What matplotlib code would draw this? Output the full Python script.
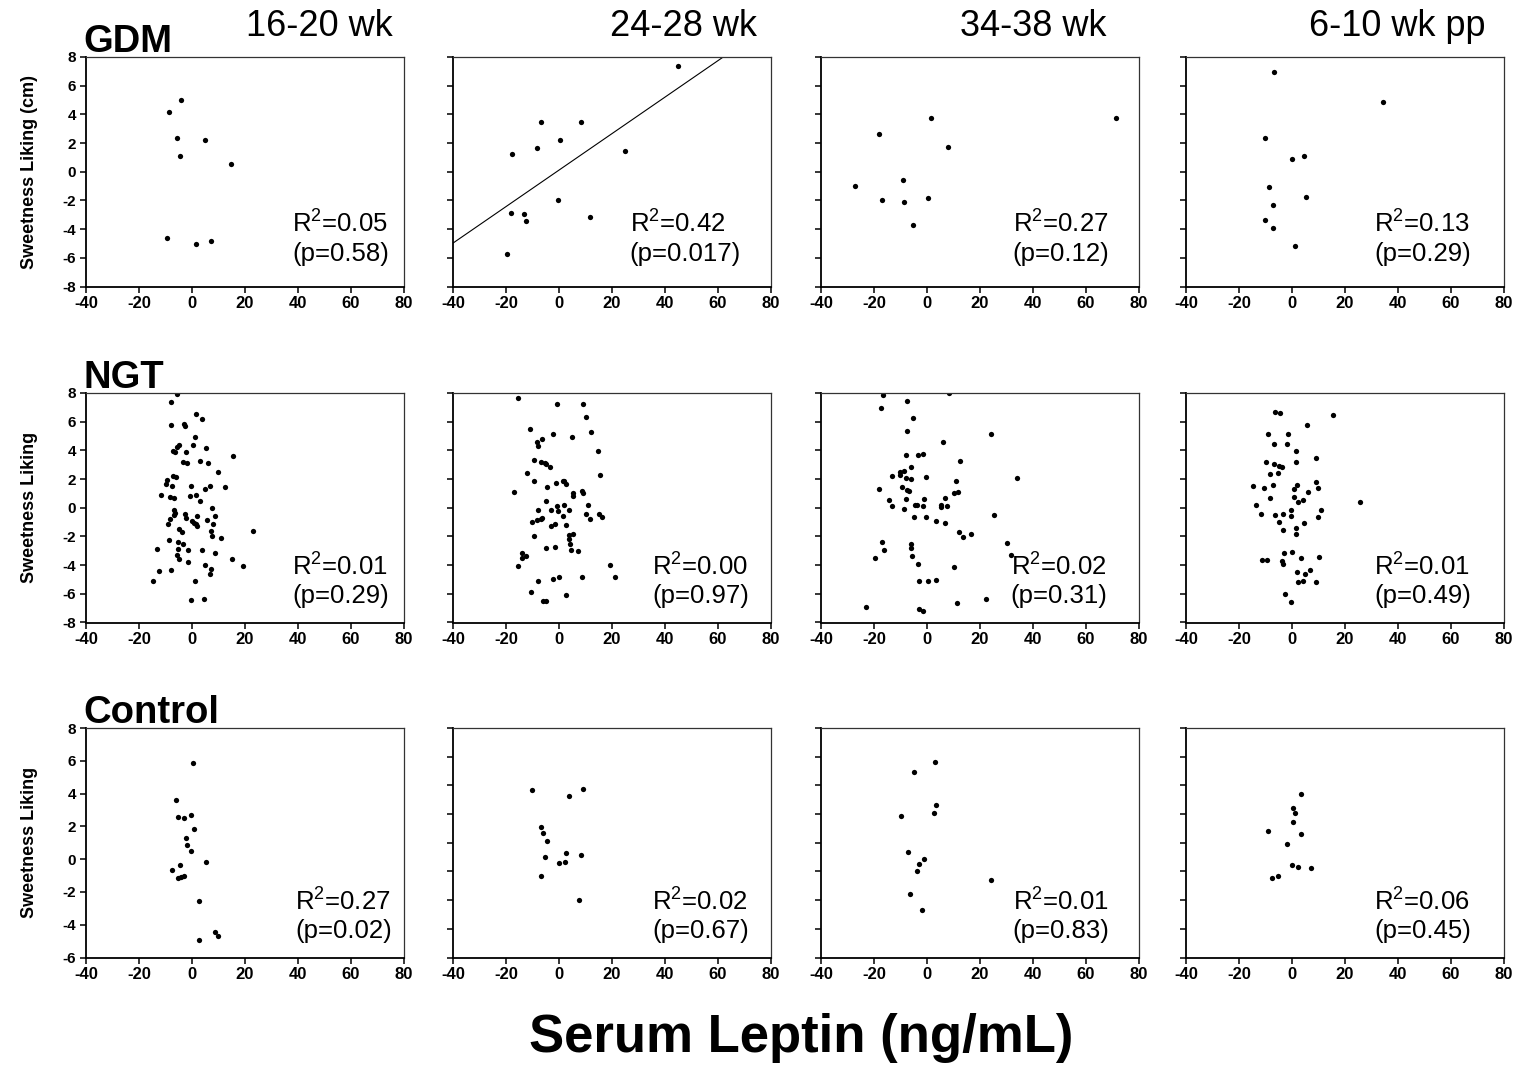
import numpy as np
import matplotlib
matplotlib.use("Agg")
import matplotlib.pyplot as plt

plt.rcParams["font.family"] = ["Liberation Sans", "DejaVu Sans"]
plt.rcParams["mathtext.default"] = "regular"
plt.rcParams["axes.unicode_minus"] = False

# ---------------------------------------------------------------------
# data: (leptin, sweetness liking) per group and visit
# ---------------------------------------------------------------------
visits = ["16-20 wk", "24-28 wk", "34-38 wk", "6-10 wk pp"]
groups = ["GDM", "NGT", "Control"]
ylabels = ["Sweetness Liking (cm)", "Sweetness Liking", "Sweetness Liking"]

gdm_1_x = [-4.0, -8.5, -5.5, 4.8, -4.6, 14.8, -9.2, 1.7, 7.1]
gdm_1_y = [5.0, 4.19, 2.33, 2.19, 1.08, 0.55, -4.6, -5.05, -4.82]
gdm_2_x = [44.9, -6.6, 8.3, 0.5, -8.4, -17.7, 24.9, -0.5, -17.9, -13.0, -12.4, 11.8, -19.5]
gdm_2_y = [7.37, 3.45, 3.45, 2.24, 1.64, 1.27, 1.43, -2.0, -2.89, -2.98, -3.43, -3.17, -5.7]
gdm_3_x = [1.4, 71.4, -18.2, 7.9, -9.0, -27.0, -16.9, -8.6, 0.5, -5.3]
gdm_3_y = [3.74, 3.74, 2.6, 1.74, -0.58, -0.98, -2.0, -2.09, -1.81, -3.70]
gdm_4_x = [-6.7, 34.4, -10.3, 0.2, 4.7, -8.6, 5.4, -7.3, -10.3, -7.2, 1.3]
gdm_4_y = [6.98, 4.86, 2.37, 0.91, 1.09, -1.05, -1.74, -2.30, -3.37, -3.95, -5.19]

ngt_1_x = [-5.5, -7.9, 1.4, 3.8, -7.9, -2.9, -2.4, 1.3, 0.5, -4.9, -5.5, 5.3, -7.3, -6.3,
           -2.3, 15.4, -3.5, -2.0, 3.0, 6.2, 9.8, -7.2, -5.9, -9.2, -9.8, -7.6, -0.3, 6.9,
           12.6, 4.8, -11.6, 1.6, -8.2, -6.7, -0.8, 3.1, 7.8, -6.9, -6.5, -6.8, -2.6, -2.3,
           -8.2, 2.0, 8.7, 0.1, 0.8, 1.4, 1.9, 5.9, 8.1, -9.1, -4.7, -3.7, 7.2, 23.3, 7.6,
           11.1, -8.6, -5.2, -3.3, -13.0, -5.4, -1.4, 4.0, 8.7, -5.5, -5.0, -1.6, 15.1, 5.0,
           19.3, -7.7, -12.3, 7.2, 6.9, -14.7, 1.3, -0.3, 4.7]
ngt_1_y = [7.9, 7.37, 6.53, 6.19, 5.79, 5.86, 5.70, 4.91, 4.40, 4.35, 4.21, 4.14, 3.93, 3.86,
           3.86, 3.63, 3.16, 3.14, 3.23, 3.09, 2.47, 2.23, 2.14, 1.93, 1.65, 1.51, 1.49, 1.49,
           1.47, 1.28, 0.86, 0.91, 0.77, 0.65, 0.79, 0.44, 0.0, -0.14, -0.35, -0.53, -0.44, -0.74,
           -0.79, -0.58, -0.56, -0.91, -1.05, -1.16, -1.28, -0.88, -1.12, -1.16, -1.49, -1.72, -1.60, -1.63, -1.95,
           -2.09, -2.23, -2.40, -2.51, -2.88, -2.88, -2.95, -2.98, -3.14, -3.26, -3.60, -3.79, -3.58, -4.02,
           -4.07, -4.33, -4.40, -4.30, -4.60, -5.12, -5.12, -6.40, -6.37]
ngt_2_x = [-15.5, -0.6, 9.2, 10.3, -10.8, 12.0, -2.3, -6.2, 4.8, -8.3, -7.8, 14.7, -9.4, -6.9,
           -5.3, -4.8, -3.3, -12.0, 15.4, -9.2, -0.9, 1.4, 2.1, 2.8, -4.5, -17.0, 8.8, 9.2,
           5.2, 5.3, -4.9, 11.1, -0.8, 1.9, -7.7, -3.1, -0.4, 3.7, 10.1, 15.2, 1.5, 11.6,
           16.5, -8.3, -6.7, -10.1, -6.2, -1.6, -2.9, 2.6, -9.4, 4.0, 5.5, 4.0, 4.2, 4.5,
           7.1, -4.9, -1.3, -13.9, -12.5, -14.0, -15.4, 19.3, 21.4, -0.1, -2.3, 8.7, -7.8, -10.6,
           2.6, -5.9, -4.8]
ngt_2_y = [7.65, 7.23, 7.23, 6.35, 5.49, 5.30, 5.12, 4.81, 4.93, 4.56, 4.30, 3.93, 3.30, 3.16,
           3.14, 3.05, 2.86, 2.40, 2.28, 1.88, 1.72, 1.88, 1.84, 1.67, 1.42, 1.09, 1.19, 1.05,
           1.0, 0.81, 0.49, 0.19, 0.14, 0.21, -0.14, -0.16, -0.23, -0.14, -0.47, -0.42, -0.56, -0.79,
           -0.67, -0.86, -0.81, -0.98, -0.74, -1.14, -1.28, -1.19, -1.98, -1.88, -1.81, -2.21, -2.51, -2.95,
           -3.0, -2.81, -2.77, -3.14, -3.37, -3.51, -4.07, -4.02, -4.86, -4.86, -5.0, -4.81, -5.09, -5.84,
           -6.07, -6.53, -6.49]
ngt_3_x = [-16.5, 8.3, -7.5, -17.5, -5.2, -7.4, 24.3, 6.0, -7.9, -3.3, -1.6, 12.7, -6.0, -8.7,
           -10.3, -10.2, -13.0, -7.8, -5.8, -0.3, 34.2, 11.2, -18.2, -9.3, -7.4, -6.7, 10.4, 11.9,
           -14.2, -7.9, -1.1, 6.7, -13.1, -4.3, -3.9, -1.3, 5.3, 5.4, 7.7, -8.6, -4.9, -0.5,
           25.2, 3.5, 7.0, 12.0, 13.6, 16.8, -17.1, -16.2, -5.9, -5.9, -5.7, 30.4, 31.8, -19.5,
           -3.4, 10.4, -2.9, 0.3, 3.3, 11.4, 22.5, -23.1, -3.0, -1.3]
ngt_3_y = [7.86, 7.98, 7.42, 6.98, 6.23, 5.37, 5.14, 4.58, 3.70, 3.70, 3.74, 3.26, 2.81, 2.53,
           2.49, 2.30, 2.21, 2.07, 2.0, 2.12, 2.09, 1.86, 1.33, 1.47, 1.23, 1.14, 1.05, 1.09,
           0.56, 0.63, 0.63, 0.65, 0.09, 0.21, 0.16, 0.14, 0.19, 0.07, 0.14, -0.12, -0.63, -0.65,
           -0.49, -0.95, -1.07, -1.70, -2.07, -1.84, -2.40, -2.98, -2.51, -2.84, -3.33, -2.44, -3.26, -3.47,
           -3.91, -4.14, -5.12, -5.12, -5.05, -6.67, -6.37, -6.93, -7.09, -7.21]
ngt_4_x = [-6.5, -4.5, 15.7, 5.9, -8.9, -1.4, -6.7, -1.9, 1.5, 9.2, -9.7, -6.9, -4.9, -3.8,
           1.5, -8.1, -5.3, -14.5, -10.5, -7.1, 1.9, 0.9, 9.2, 9.8, 6.0, -8.4, 0.9, 4.4,
           2.5, 25.7, -13.5, -0.5, 11.1, -11.7, -6.2, -3.5, -0.5, 9.9, -4.7, 4.5, 1.4, -3.4,
           1.6, -2.9, 0.0, 10.1, -11.3, -9.3, -3.9, -3.5, 3.3, 1.9, 6.9, 4.9, 2.4, 4.3,
           9.1, -2.4, -0.4]
ngt_4_y = [6.70, 6.60, 6.44, 5.74, 5.12, 5.16, 4.42, 4.47, 3.95, 3.49, 3.21, 3.02, 2.88, 2.84,
           3.19, 2.35, 2.40, 1.51, 1.40, 1.60, 1.56, 1.28, 1.79, 1.40, 1.09, 0.65, 0.74, 0.56,
           0.40, 0.42, 0.16, -0.19, -0.19, -0.44, -0.53, -0.44, -0.58, -0.63, -1.02, -1.05, -1.40, -1.56,
           -1.86, -3.16, -3.07, -3.44, -3.63, -3.67, -3.70, -3.91, -3.53, -4.47, -4.35, -4.60, -5.19, -5.09,
           -5.21, -6.02, -6.60]

ctl_1_x = [0.6, -5.9, -5.3, -0.3, -3.0, 0.8, -2.3, -1.9, -0.3, 5.3, -4.5, -7.4, -5.3, -4.0,
           -3.0, 2.8, 8.7, 9.8, 2.8]
ctl_1_y = [5.85, 3.62, 2.60, 2.68, 2.52, 1.86, 1.29, 0.84, 0.49, -0.18, -0.37, -0.67, -1.15, -1.08,
           -1.0, -2.54, -4.42, -4.68, -4.93]
ctl_2_x = [-10.2, 9.3, 4.0, -6.9, -6.0, -4.4, -5.3, 2.6, 8.2, 0.1, 2.5, -6.7, 7.8]
ctl_2_y = [3.65, 3.74, 3.26, 1.07, 0.65, 0.14, -0.98, -0.72, -0.84, -1.44, -1.33, -2.33, -4.02]
ctl_3_x = [3.1, -4.8, 3.4, 2.6, -9.6, -7.3, -1.0, -2.8, -3.8, 24.3, -6.2, -2.0]
ctl_3_y = [5.63, 4.93, 2.60, 2.09, 1.84, -0.65, -1.16, -1.49, -2.0, -2.63, -3.58, -4.72]
ctl_4_x = [3.4, 0.4, 1.3, 0.6, -8.9, 3.4, -2.0, 0.0, 2.5, 7.3, -5.4, -7.4]
ctl_4_y = [3.40, 2.42, 2.05, 1.44, 0.79, 0.58, -0.09, -1.53, -1.70, -1.77, -2.30, -2.47]

series = [
    [(gdm_1_x, gdm_1_y), (gdm_2_x, gdm_2_y), (gdm_3_x, gdm_3_y), (gdm_4_x, gdm_4_y)],
    [(ngt_1_x, ngt_1_y), (ngt_2_x, ngt_2_y), (ngt_3_x, ngt_3_y), (ngt_4_x, ngt_4_y)],
    [(ctl_1_x, ctl_1_y), (ctl_2_x, ctl_2_y), (ctl_3_x, ctl_3_y), (ctl_4_x, ctl_4_y)],
]

r2_text = [
    ["0.05", "0.42", "0.27", "0.13"],
    ["0.01", "0.00", "0.02", "0.01"],
    ["0.27", "0.02", "0.01", "0.06"],
]
p_text = [
    ["0.58", "0.017", "0.12", "0.29"],
    ["0.29", "0.97", "0.31", "0.49"],
    ["0.02", "0.67", "0.83", "0.45"],
]

# only the GDM 24-28 wk panel gets a regression line
fit_panels = [(0, 1)]

# ---------------------------------------------------------------------
# layout (pixel positions of the panels)
# ---------------------------------------------------------------------
W, H = 1526, 1069
col_left = [86, 453, 821, 1186]
ax_w = 317.5
row_top = [57, 393, 728]
ax_h = 229.5
stat_x = [[0.65, 0.556, 0.604, 0.593],
          [0.65, 0.628, 0.597, 0.593],
          [0.659, 0.628, 0.604, 0.593]]
stat_y = [(0.235, 0.11), (0.205, 0.083), (0.205, 0.083)]

fig = plt.figure(figsize=(W / 100, H / 100), dpi=100)

for r in range(3):
    for c in range(4):
        left = col_left[c] / W
        bottom = 1 - (row_top[r] + ax_h) / H
        ax = fig.add_axes([left, bottom, ax_w / W, ax_h / H])
        x, y = series[r][c]
        ax.plot(x, y, "o", color="black", markersize=3.8, markeredgewidth=0)

        if (r, c) in fit_panels:
            slope, icpt = np.polyfit(x, y, 1)
            xx = np.array([-40, 80])
            ax.plot(xx, slope * xx + icpt, color="black", linewidth=0.8)

        ax.set_xlim(-40, 80)
        ax.set_xticks(np.arange(-40, 81, 20))
        if r == 2 and c == 0:
            ax.set_ylim(-6, 8)
            ax.set_yticks(np.arange(-6, 9, 2))
        else:
            ax.set_ylim(-8, 8)
            ax.set_yticks(np.arange(-8, 9, 2))

        for s in ["left", "bottom"]:
            ax.spines[s].set_linewidth(1.3)
            ax.spines[s].set_color("black")
        for s in ["top", "right"]:
            ax.spines[s].set_linewidth(0.9)
            ax.spines[s].set_color("#333333")
        ax.tick_params(direction="out", length=4, width=1.1, colors="black", pad=3)
        ax.tick_params(axis="x", labelsize=12)
        ax.tick_params(axis="y", labelsize=11)
        for lab in ax.get_xticklabels() + ax.get_yticklabels():
            lab.set_fontweight("bold")
        if c > 0:
            ax.set_yticklabels([])
        else:
            ax.set_ylabel(ylabels[r], fontsize=13, fontweight="bold")
            ax.yaxis.set_label_coords(-0.152, 0.5)

        sx = stat_x[r][c]
        ax.text(sx, stat_y[r][0], "R$^2$=" + r2_text[r][c], transform=ax.transAxes,
                fontsize=18.5, ha="left", va="baseline")
        ax.text(sx, stat_y[r][1], "(p=" + p_text[r][c] + ")", transform=ax.transAxes,
                fontsize=18.5, ha="left", va="baseline")

        if c == 0:
            fig.text(83 / W, 1 - (row_top[r] - 5) / H, groups[r], fontsize=27.5,
                     fontweight="bold", ha="left", va="baseline")

# column titles
title_cx = [319, 683, 1033, 1397]
for c in range(4):
    fig.text(title_cx[c] / W, 1 - 36 / H, visits[c], fontsize=26, ha="center",
             va="baseline")

fig.text(801 / W, 1 - 1052 / H, "Serum Leptin (ng/mL)", fontsize=38,
         fontweight="bold", ha="center", va="baseline")

fig.savefig("out.png", dpi=100, facecolor="white")
